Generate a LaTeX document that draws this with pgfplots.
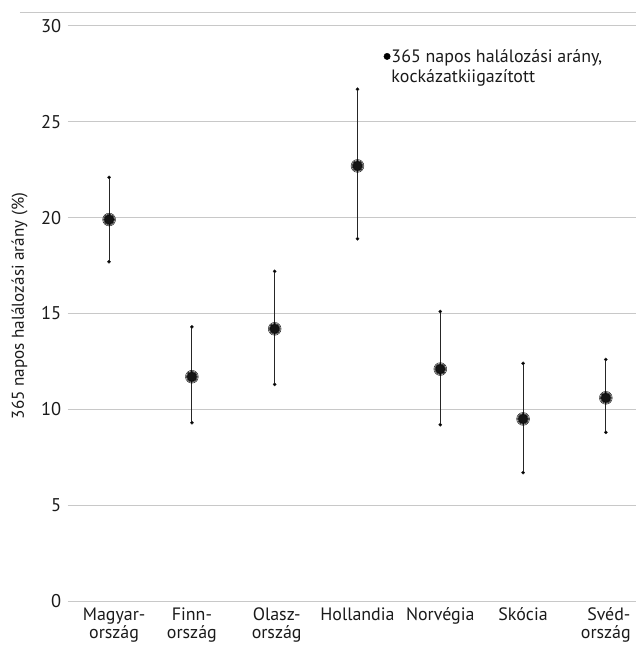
\documentclass[border=0pt]{standalone}
\usepackage{fontspec}
\setmainfont{PT Sans}
\usepackage{pgfplots}
\usepackage{pgfplotstable}
\pgfplotsset{compat=1.18}
\definecolor{gridc}{HTML}{C8C8C8}
\definecolor{txt}{HTML}{1A1A1A}
\pgfplotstableread{
x y hi lo
0 19.9 22.1 17.7
1 11.7 14.3 9.3
2 14.2 17.2 11.3
3 22.7 26.7 18.9
4 12.1 15.1 9.2
5 9.5 12.4 6.7
6 10.6 12.6 8.8
}\datatab
\begin{document}
\begin{tikzpicture}
\useasboundingbox (-67.7bp,-47bp) rectangle (568.3bp,601bp);
\begin{axis}[
  at={(0,0)}, anchor=south west,
  scale only axis, width=568.3bp, height=575bp,
  xmin=-0.5, xmax=6.364, ymin=0, ymax=30,
  ytick={0,5,...,30}, xtick={0,...,6},
  xticklabels={{\hspace{10bp}Magyar-\\\hspace{10bp}ország},{Finn-\\ország},{\hspace{4bp}Olasz-\\\hspace{4bp}ország},Hollandia,Norvégia,Skócia,{\hspace{6bp}Svéd-\\ország}},
  x tick label style={align=center, font=\fontsize{18}{18.5}\selectfont, text=txt, anchor=north, yshift=-3bp},
  y tick label style={font=\fontsize{18.5}{20}\selectfont, text=txt, anchor=east, xshift=-3bp},
  /pgf/number format/assume math mode=true,
  axis line style={draw=none},
  major tick length=0pt,
  ymajorgrids, grid style={gridc, line width=1bp},
  ylabel={365 napos halálozási arány (\%)},
  ylabel style={at={(axis description cs:-0.0845,0.513)}, anchor=center, font=\fontsize{17.2}{18}\selectfont, text=txt},
  legend style={at={(axis description cs:0.5557,0.962)}, anchor=north west, draw=none, fill=none,
    inner sep=0pt, font=\fontsize{18}{20}\selectfont, text=txt,
    nodes={inner sep=1bp}},
  legend cell align=left,
  clip=false,
]
\addplot[only marks, mark=*, mark size=6.4bp, mark options={draw=none, fill=black, fill opacity=0.07}, forget plot]
  table[x=x, y=y] {\datatab};
\addplot[only marks, mark=*, mark size=5.6bp, mark options={draw=none, fill=black, fill opacity=0.12}, forget plot]
  table[x=x, y=y] {\datatab};
\addplot[only marks, mark=*, mark size=4.8bp, mark options={draw=none, fill=black!92},
  legend image code/.code={\fill[black] (0.1cm,5.5bp) circle (3.2bp);},
  error bars/.cd, y dir=both, y explicit,
  error bar style={line width=1.1bp, black!85},
  error mark=*, error mark options={mark size=1.6bp, fill=black, draw=none}]
  table[x=x, y=y, y error plus expr=\thisrow{hi}-\thisrow{y}, y error minus expr=\thisrow{y}-\thisrow{lo}] {\datatab};
\addlegendentry{\begin{tabular}{@{}l@{}}365 napos halálozási arány,\\kockázatkiigazított\end{tabular}}
\end{axis}
\draw[gridc, line width=1bp] (-47.7bp,588.7bp) -- (568.3bp,588.7bp);
\end{tikzpicture}
\end{document}
